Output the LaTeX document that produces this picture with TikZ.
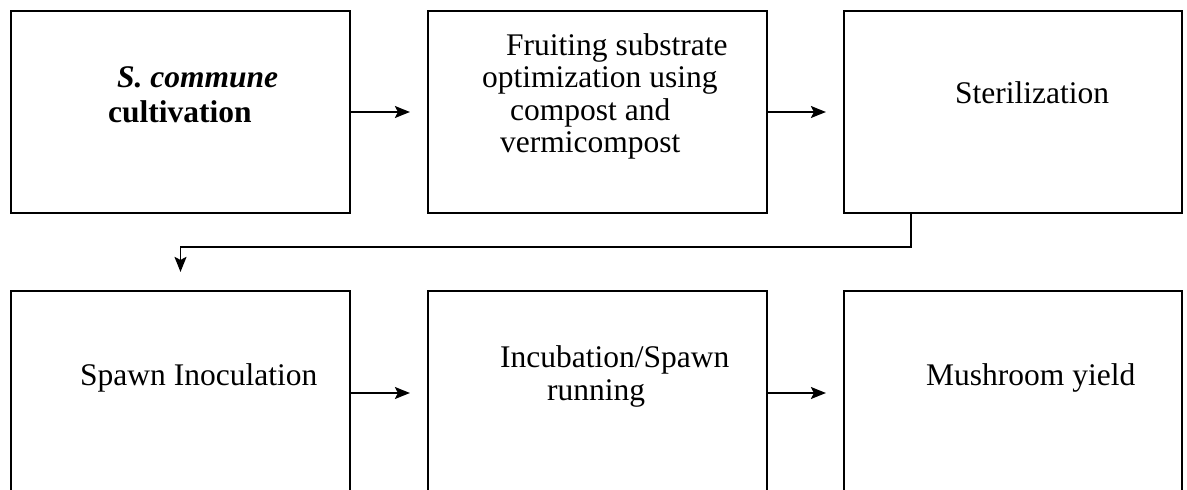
\documentclass[tikz,border=0pt]{standalone}
\usepackage{fontspec}
\setmainfont{Liberation Serif}
\usetikzlibrary{arrows.meta}
\begin{document}
\begin{tikzpicture}[x=1pt,y=-1pt,
  box/.style={draw=black,line width=2.2pt,rectangle,inner sep=0pt,fill=none},
  lbl/.style={inner sep=0pt,anchor=base west,font=\fontsize{31.5}{34}\selectfont},
  arr/.style={line width=1.6pt,-{Stealth[length=15pt,width=12pt,inset=3pt]}}]
\useasboundingbox (0,0) rectangle (1187,490);
\clip (0,0) rectangle (1187,490);
% top row
\node[box,minimum width=339pt,minimum height=202pt] (b1) at (180.5,112) {};
\node[box,minimum width=339pt,minimum height=202pt] (b2) at (597.5,112) {};
\node[box,minimum width=338pt,minimum height=202pt] (b3) at (1013,112) {};
% bottom row (cut at bottom)
\node[box,minimum width=339pt,minimum height=240pt] (b4) at (180.5,411) {};
\node[box,minimum width=339pt,minimum height=240pt] (b5) at (597.5,411) {};
\node[box,minimum width=338pt,minimum height=240pt] (b6) at (1013,411) {};
% labels
\node[lbl] (t1a) at (117,87) {\textbf{\textit{S. commune}}};
\node[lbl] (t1b) at (108,122) {\textbf{cultivation}};
\node[lbl] (t2a) at (506,55) {Fruiting substrate};
\node[lbl] (t2b) at (482,87) {optimization using};
\node[lbl] (t2c) at (510,120) {compost and};
\node[lbl] (t2d) at (500,152) {vermicompost};
\node[lbl] (t3) at (955,103) {Sterilization};
\node[lbl] (t4) at (80,385) {Spawn Inoculation};
\node[lbl] (t5a) at (500,367) {Incubation/Spawn};
\node[lbl] (t5b) at (547,400) {running};
\node[lbl] (t6) at (926,385) {Mushroom yield};
% connectors
\draw[arr,shorten >=17pt] (b1.east) -- (b2.west);
\draw[arr,shorten >=17pt] (b2.east) -- (b3.west);
\draw[arr] ([xshift=68pt]b3.south west) |- ([yshift=43pt]b4.north) -- ([yshift=18pt]b4.north);
\draw[arr,shorten >=17pt] ([yshift=18pt]b4.east) -- ([yshift=18pt]b5.west);
\draw[arr,shorten >=17pt] ([yshift=18pt]b5.east) -- ([yshift=18pt]b6.west);
\end{tikzpicture}
\end{document}
